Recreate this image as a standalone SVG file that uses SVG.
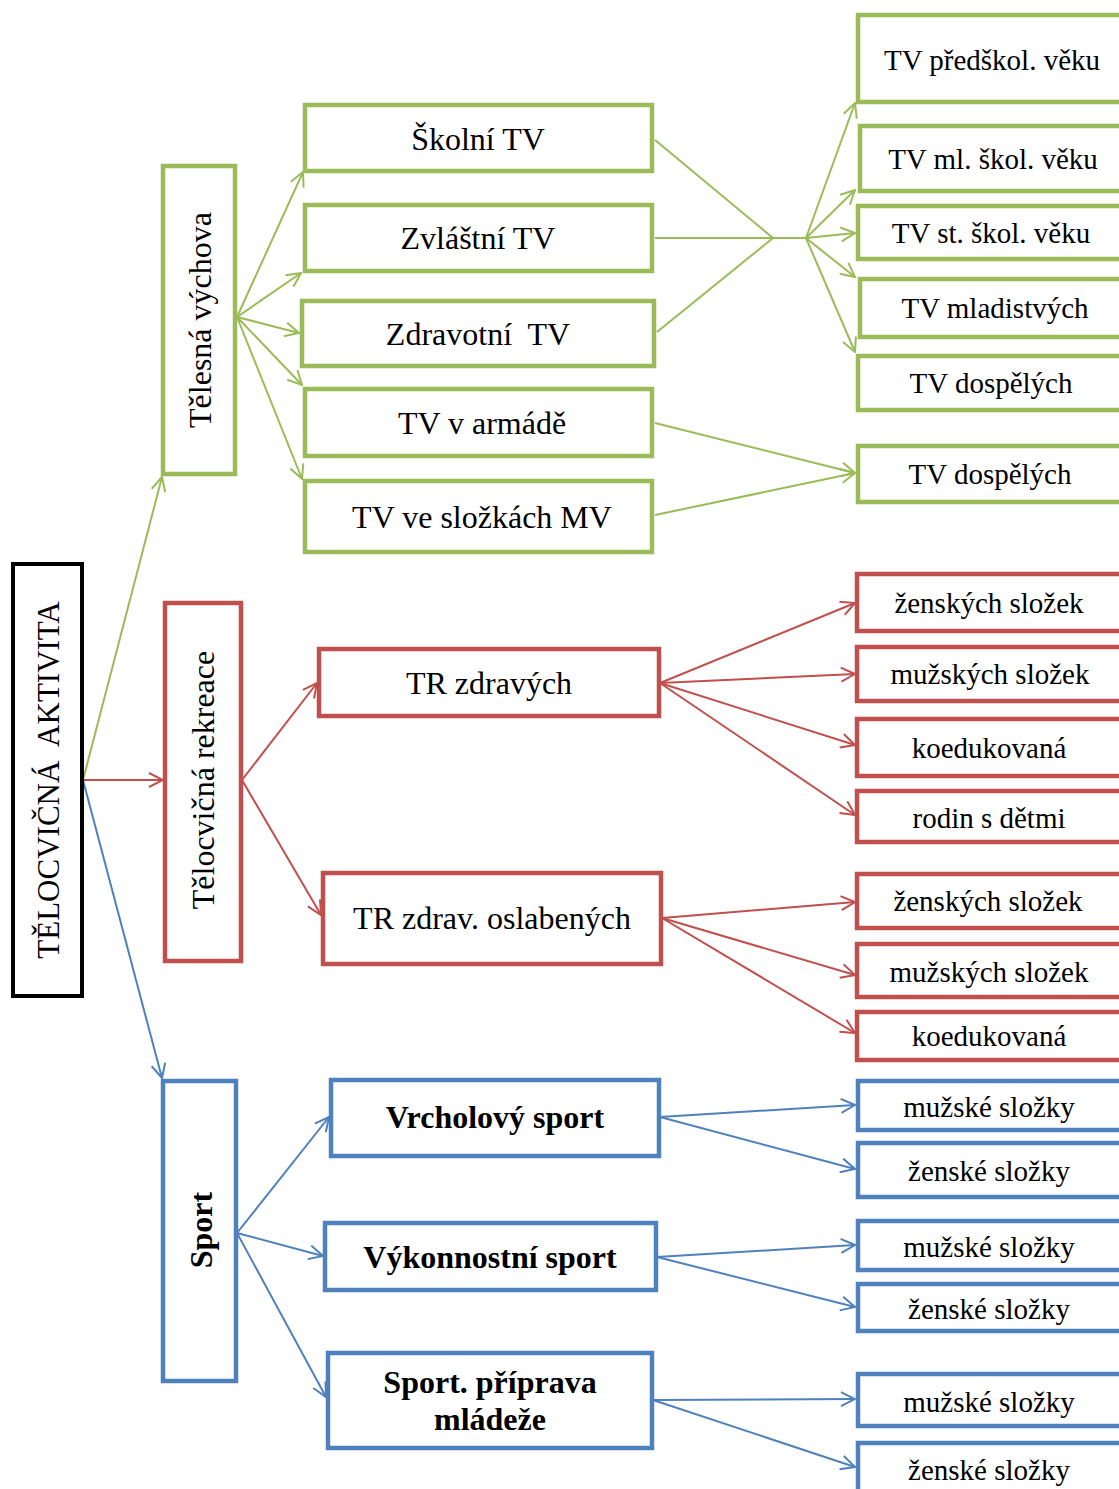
<svg xmlns="http://www.w3.org/2000/svg" width="1119" height="1489" viewBox="0 0 1119 1489">
<style>
text{font-family:"Liberation Serif","Times New Roman",serif;fill:#000;text-anchor:middle}
.m{font-size:32px}
.r{font-size:29px}
.b{font-weight:bold}
.g{fill:#fff;stroke:#9BBB59;stroke-width:4.5}
.rd{fill:#fff;stroke:#C0504D;stroke-width:4.5}
.bl{fill:#fff;stroke:#4F81BD;stroke-width:4.5}
.lg{stroke:#9BBB59;stroke-width:2;fill:none}
.lr{stroke:#C0504D;stroke-width:2;fill:none}
.lb{stroke:#4F81BD;stroke-width:2;fill:none}
</style>
<defs>
<marker id="ag" viewBox="0 0 16 16" refX="15" refY="8" markerWidth="16" markerHeight="16" markerUnits="userSpaceOnUse" orient="auto"><path d="M1,1 L15,8 L1,15" fill="none" stroke="#9BBB59" stroke-width="2"/></marker>
<marker id="ar" viewBox="0 0 16 16" refX="15" refY="8" markerWidth="16" markerHeight="16" markerUnits="userSpaceOnUse" orient="auto"><path d="M1,1 L15,8 L1,15" fill="none" stroke="#C0504D" stroke-width="2"/></marker>
<marker id="ab" viewBox="0 0 16 16" refX="15" refY="8" markerWidth="16" markerHeight="16" markerUnits="userSpaceOnUse" orient="auto"><path d="M1,1 L15,8 L1,15" fill="none" stroke="#4F81BD" stroke-width="2"/></marker>
</defs>
<rect width="1119" height="1489" fill="#fff"/>
<g id="connectors">
<g class="lg">
<line x1="83" y1="780" x2="162" y2="477" marker-end="url(#ag)"/>
<line x1="237" y1="317" x2="303" y2="172" marker-end="url(#ag)"/>
<line x1="237" y1="317" x2="301" y2="273" marker-end="url(#ag)"/>
<line x1="237" y1="317" x2="299" y2="333" marker-end="url(#ag)"/>
<line x1="237" y1="317" x2="302" y2="385" marker-end="url(#ag)"/>
<line x1="237" y1="317" x2="302" y2="479" marker-end="url(#ag)"/>
<polyline points="655,140 773,238 806,238"/>
<line x1="655" y1="238" x2="773" y2="238"/>
<line x1="657" y1="332" x2="773" y2="238"/>
<line x1="806" y1="238" x2="855" y2="103" marker-end="url(#ag)"/>
<line x1="806" y1="238" x2="855" y2="190" marker-end="url(#ag)"/>
<line x1="806" y1="238" x2="855" y2="233" marker-end="url(#ag)"/>
<line x1="806" y1="238" x2="855" y2="277" marker-end="url(#ag)"/>
<line x1="806" y1="238" x2="855" y2="352" marker-end="url(#ag)"/>
<line x1="655" y1="423" x2="855" y2="473" marker-end="url(#ag)"/>
<line x1="655" y1="515" x2="855" y2="473" marker-end="url(#ag)"/>
</g>
<g class="lr">
<line x1="83" y1="780" x2="163" y2="780" marker-end="url(#ar)"/>
<line x1="242" y1="780" x2="317" y2="683" marker-end="url(#ar)"/>
<line x1="242" y1="780" x2="321" y2="915" marker-end="url(#ar)"/>
<line x1="660" y1="683" x2="855" y2="603" marker-end="url(#ar)"/>
<line x1="660" y1="683" x2="855" y2="674" marker-end="url(#ar)"/>
<line x1="660" y1="683" x2="855" y2="745" marker-end="url(#ar)"/>
<line x1="660" y1="683" x2="855" y2="815" marker-end="url(#ar)"/>
<line x1="662" y1="918" x2="855" y2="902" marker-end="url(#ar)"/>
<line x1="662" y1="918" x2="855" y2="975" marker-end="url(#ar)"/>
<line x1="662" y1="918" x2="855" y2="1033" marker-end="url(#ar)"/>
</g>
<g class="lb">
<line x1="83" y1="780" x2="162" y2="1078" marker-end="url(#ab)"/>
<line x1="237" y1="1233" x2="329" y2="1117" marker-end="url(#ab)"/>
<line x1="237" y1="1233" x2="323" y2="1256" marker-end="url(#ab)"/>
<line x1="237" y1="1233" x2="326" y2="1397" marker-end="url(#ab)"/>
<line x1="660" y1="1117" x2="855" y2="1105" marker-end="url(#ab)"/>
<line x1="660" y1="1117" x2="855" y2="1169" marker-end="url(#ab)"/>
<line x1="657" y1="1257" x2="855" y2="1245" marker-end="url(#ab)"/>
<line x1="657" y1="1257" x2="855" y2="1307" marker-end="url(#ab)"/>
<line x1="653" y1="1400" x2="855" y2="1399" marker-end="url(#ab)"/>
<line x1="653" y1="1400" x2="855" y2="1467" marker-end="url(#ab)"/>
</g>
</g>
<g id="root"><rect x="13" y="564" width="69" height="432" fill="#fff" stroke="#000" stroke-width="4"/><text class="m" font-size="31" xml:space="preserve" transform="translate(59,780) rotate(-90)" style="font-size:31px">TĚLOCVIČNÁ  AKTIVITA</text></g>
<g id="telesna"><rect class="g" x="163" y="166" width="72" height="308"/><text class="m" transform="translate(211,320) rotate(-90)">Tělesná výchova</text></g>
<g id="skolni"><rect class="g" x="305" y="105" width="347" height="66"/><text class="m" x="478" y="150">Školní TV</text></g>
<g id="zvlastni"><rect class="g" x="305" y="205" width="347" height="66"/><text class="m" x="478" y="249">Zvláštní TV</text></g>
<g id="zdravotni"><rect class="g" x="302" y="301" width="352" height="65"/><text class="m" x="478" y="345" xml:space="preserve">Zdravotní  TV</text></g>
<g id="armada"><rect class="g" x="305" y="389" width="347" height="67"/><text class="m" x="482" y="434">TV v armádě</text></g>
<g id="mv"><rect class="g" x="305" y="481" width="347" height="71"/><text class="m" x="482" y="528">TV ve složkách MV</text></g>
<g id="predskol"><rect class="g" x="858" y="15" width="300" height="87"/><text class="r" x="992" y="70">TV předškol. věku</text></g>
<g id="mlskol"><rect class="g" x="860" y="126" width="300" height="65"/><text class="r" x="993" y="169">TV ml. škol. věku</text></g>
<g id="stskol"><rect class="g" x="858" y="206" width="300" height="53"/><text class="r" x="991" y="243">TV st. škol. věku</text></g>
<g id="mladistvych"><rect class="g" x="860" y="279" width="300" height="58"/><text class="r" x="995" y="318">TV mladistvých</text></g>
<g id="dospelych1"><rect class="g" x="858" y="356" width="300" height="54"/><text class="r" x="991" y="393">TV dospělých</text></g>
<g id="dospelych2"><rect class="g" x="858" y="446" width="300" height="56"/><text class="r" x="990" y="484">TV dospělých</text></g>
<g id="rekreace"><rect class="rd" x="165" y="603" width="76" height="358"/><text class="m" transform="translate(214,780) rotate(-90)">Tělocvičná rekreace</text></g>
<g id="trzdravych"><rect class="rd" x="319" y="649" width="340" height="67"/><text class="m" x="489" y="694">TR zdravých</text></g>
<g id="troslab"><rect class="rd" x="323" y="873" width="338" height="91"/><text class="m" x="492" y="929">TR zdrav. oslabených</text></g>
<g id="zen1"><rect class="rd" x="857" y="574" width="300" height="57"/><text class="r" x="989" y="613">ženských složek</text></g>
<g id="muz1"><rect class="rd" x="857" y="647" width="300" height="54"/><text class="r" x="990" y="684">mužských složek</text></g>
<g id="koed1"><rect class="rd" x="857" y="719" width="300" height="57"/><text class="r" x="989" y="758">koedukovaná</text></g>
<g id="rodin"><rect class="rd" x="857" y="791" width="300" height="51"/><text class="r" x="989" y="828">rodin s dětmi</text></g>
<g id="zen2"><rect class="rd" x="857" y="874" width="300" height="54"/><text class="r" x="988" y="911">ženských složek</text></g>
<g id="muz2"><rect class="rd" x="857" y="944" width="300" height="53"/><text class="r" x="989" y="982">mužských složek</text></g>
<g id="koed2"><rect class="rd" x="857" y="1012" width="300" height="48"/><text class="r" x="989" y="1046">koedukovaná</text></g>
<g id="sport"><rect class="bl" x="163" y="1081" width="73" height="300"/><text class="m b" transform="translate(212,1230) rotate(-90)">Sport</text></g>
<g id="vrcholovy"><rect class="bl" x="331" y="1080" width="328" height="76"/><text class="m b" x="495" y="1128">Vrcholový sport</text></g>
<g id="vykonnostni"><rect class="bl" x="325" y="1223" width="331" height="67"/><text class="m b" x="490" y="1268">Výkonnostní sport</text></g>
<g id="priprava"><rect class="bl" x="328" y="1353" width="324" height="95"/><text class="m b" x="490" y="1393">Sport. příprava</text><text class="m b" x="490" y="1430">mládeže</text></g>
<g id="muzske1"><rect class="bl" x="858" y="1081" width="300" height="49"/><text class="r" x="989" y="1117">mužské složky</text></g>
<g id="zenske1"><rect class="bl" x="858" y="1143" width="300" height="54"/><text class="r" x="989" y="1181">ženské složky</text></g>
<g id="muzske2"><rect class="bl" x="858" y="1221" width="300" height="49"/><text class="r" x="989" y="1257">mužské složky</text></g>
<g id="zenske2"><rect class="bl" x="858" y="1284" width="300" height="47"/><text class="r" x="989" y="1319">ženské složky</text></g>
<g id="muzske3"><rect class="bl" x="858" y="1374" width="300" height="52"/><text class="r" x="989" y="1412">mužské složky</text></g>
<g id="zenske3"><rect class="bl" x="858" y="1443" width="300" height="60"/><text class="r" x="989" y="1480">ženské složky</text></g>
</svg>
